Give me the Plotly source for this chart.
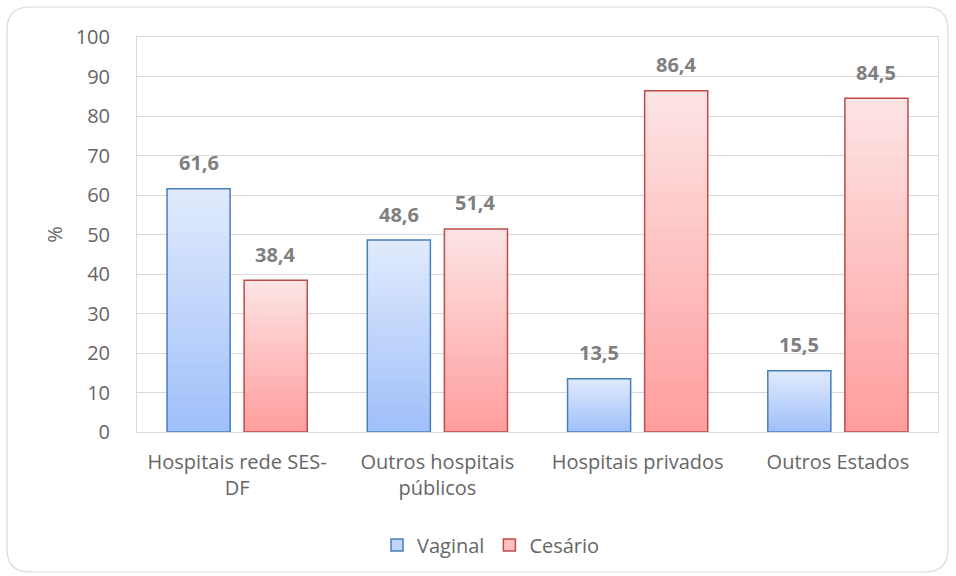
import plotly.graph_objects as go

# Data
categories = ["Hospitais rede SES-<br>DF", "Outros hospitais<br>públicos",
              "Hospitais privados", "Outros Estados"]
vaginal = [61.6, 48.6, 13.5, 15.5]
cesario = [38.4, 51.4, 86.4, 84.5]
series_names = ["Vaginal", "Cesário"]

FONT = "'Open Sans', Calibri, sans-serif"
FS = 20
TICK_COLOR = "#666666"
LABEL_COLOR = "#7f7f7f"
GRID = "#d9d9d9"

# gradient ends (top, bottom) and border per series
styles = {
    "Vaginal": dict(top=(224, 234, 252), bottom=(160, 192, 250), line="#4a7ebb"),
    "Cesário": dict(top=(253, 228, 228), bottom=(255, 158, 158), line="#be4b48"),
}

BARGAP = 0.23
GROUPGAP = 14 / 77
N_STEPS = 40

x_idx = list(range(len(categories)))


def mix(a, b, t):
    return "rgb(%d,%d,%d)" % tuple(round(a[i] + (b[i] - a[i]) * t) for i in range(3))


fig = go.Figure()

for name, vals in zip(series_names, [vaginal, cesario]):
    st = styles[name]
    # gradient fill: full bar in the top colour, then successively shorter
    # bars in darker shades laid over the lower part
    for k in range(N_STEPS):
        frac = (N_STEPS - k) / N_STEPS
        t = k / (N_STEPS - 1)
        fig.add_trace(go.Bar(
            x=x_idx, y=[v * frac for v in vals], offsetgroup=name,
            marker=dict(color=mix(st["top"], st["bottom"], t), line=dict(width=0)),
            showlegend=False, hoverinfo="skip",
        ))
    # outline
    fig.add_trace(go.Bar(
        x=x_idx, y=vals, offsetgroup=name, name=name,
        marker=dict(color="rgba(0,0,0,0)", line=dict(color=st["line"], width=1.5)),
        showlegend=False,
    ))
    # legend entry
    fig.add_trace(go.Bar(
        x=x_idx, y=[None] * len(vals), offsetgroup=name, name=name,
        marker=dict(color=mix(st["top"], st["bottom"], 0.5),
                    line=dict(color=st["line"], width=1.5)),
        showlegend=True,
    ))

# value labels above each bar
slot = (1 - BARGAP) / 2
for j, (name, vals) in enumerate(zip(series_names, [vaginal, cesario])):
    offset = (j - 0.5) * slot
    for i, v in enumerate(vals):
        fig.add_annotation(
            x=i + offset, y=v, text=f"{v:.1f}".replace(".", ","),
            showarrow=False, yshift=26,
            font=dict(family=FONT, size=FS, color=LABEL_COLOR, weight="bold"),
        )

# outer rounded frame (pixel geometry converted to paper units)
W, H = 956, 576
ML, MR, MT, MB = 137, 18, 37, 144
pw, ph = W - ML - MR, H - MT - MB


def px(xp):
    return (xp - ML) / pw


def py(yp):
    return (H - MB - yp) / ph


x0, x1, y0, y1, r = 7, 948, 7, 572, 23
path = (
    f"M {px(x0 + r)},{py(y0)} L {px(x1 - r)},{py(y0)} "
    f"Q {px(x1)},{py(y0)} {px(x1)},{py(y0 + r)} "
    f"L {px(x1)},{py(y1 - r)} Q {px(x1)},{py(y1)} {px(x1 - r)},{py(y1)} "
    f"L {px(x0 + r)},{py(y1)} Q {px(x0)},{py(y1)} {px(x0)},{py(y1 - r)} "
    f"L {px(x0)},{py(y0 + r)} Q {px(x0)},{py(y0)} {px(x0 + r)},{py(y0)} Z"
)
fig.add_shape(type="path", path=path, xref="paper", yref="paper",
              line=dict(color="#d9d9d9", width=1.2), layer="below")

fig.update_layout(
    width=W, height=H,
    margin=dict(l=ML, r=MR, t=MT, b=MB),
    paper_bgcolor="white", plot_bgcolor="white",
    barmode="group", bargap=BARGAP, bargroupgap=GROUPGAP,
    font=dict(family=FONT, size=FS, color=TICK_COLOR),
    legend=dict(orientation="h", x=px(491), xanchor="center", y=py(545), yanchor="middle",
                font=dict(family=FONT, size=FS, color=TICK_COLOR),
                itemwidth=30, traceorder="normal"),
    showlegend=True,
)

fig.update_xaxes(
    tickmode="array", tickvals=x_idx, ticktext=categories,
    range=[-0.5, len(categories) - 0.5],
    showline=True, linecolor=GRID, linewidth=1, mirror=True,
    showgrid=False, ticks="", tickfont=dict(size=FS, color=TICK_COLOR),
    ticklabelstandoff=12,
)
fig.update_yaxes(
    range=[0, 100], dtick=10, showgrid=True, gridcolor=GRID, gridwidth=1,
    showline=True, linecolor=GRID, linewidth=1, mirror=True,
    zeroline=False, ticks="", tickfont=dict(size=FS, color=TICK_COLOR),
    ticklabelstandoff=22,
    title=dict(text="%", font=dict(size=FS, color=TICK_COLOR), standoff=7),
)

fig.write_html("out.html")
